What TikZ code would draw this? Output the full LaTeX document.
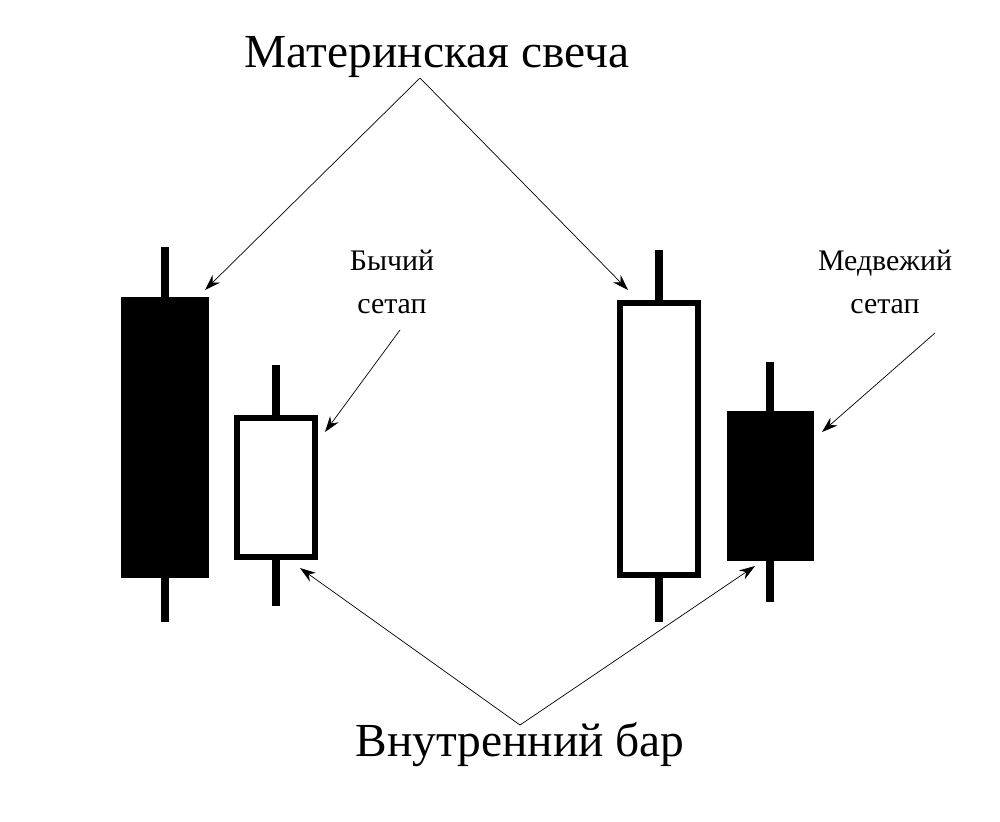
\documentclass[tikz,border=0pt]{standalone}
\usepackage{fontspec}
\setmainfont{Liberation Serif}
\usetikzlibrary{arrows.meta}

\begin{document}
\begin{tikzpicture}[x=0.02cm, y=-0.02cm]
  \tikzstyle{wick} = [line width=4.5pt]
  \tikzstyle{bear} = [rectangle, fill=black, draw=black, line width=3.4pt, inner sep=0]
  \tikzstyle{bull} = [rectangle, fill=white, draw=black, line width=3.4pt, inner sep=0]
  \tikzstyle{arrow} = [thin, -{Stealth[length=9pt, width=6pt]}]
  \tikzstyle{title} = [font=\fontsize{27}{30}\selectfont]
  \tikzstyle{note} = [align=center, font=\fontsize{17}{24}\selectfont]

  \useasboundingbox (0,0) rectangle (1000,821);

  % wicks
  \draw[wick] (165,247) -- (165,622);
  \draw[wick] (276,365) -- (276,606);
  \draw[wick] (659,250) -- (659,622);
  \draw[wick] (770,362) -- (770,602);

  % bodies
  \node[bear, minimum width=1.64cm, minimum height=5.5cm] (mother1) at (165,437.5) {};
  \node[bull, minimum width=1.56cm, minimum height=2.78cm] (inside1) at (276,487.5) {};
  \node[bull, minimum width=1.56cm, minimum height=5.44cm] (mother2) at (659,439) {};
  \node[bear, minimum width=1.62cm, minimum height=2.88cm] (inside2) at (770.5,486) {};

  % labels
  \node[title] (mother) at (437,57) {Материнская свеча};
  \node[title] (inside) at (520,745) {Внутренний бар};
  \node[note] (bull) at (392,282) {Бычий\\сетап};
  \node[note] (bear) at (885,282) {Медвежий\\сетап};

  \coordinate (top) at (420,78);
  \coordinate (bottom) at (520,725);
  \coordinate (m1) at (205,290);
  \coordinate (m2) at (628,290);
  \coordinate (i1) at (300,568);
  \coordinate (i2) at (755,566);
  \coordinate (b1) at (400,330);
  \coordinate (b2) at (935,333);

  \draw[arrow] (top) -- (m1);
  \draw[arrow] (top) -- (m2);
  \draw[arrow] (bottom) -- (i1);
  \draw[arrow] (bottom) -- (i2);
  \draw[arrow] (b1) -- (325,432);
  \draw[arrow] (b2) -- (822,432);
\end{tikzpicture}
\end{document}
